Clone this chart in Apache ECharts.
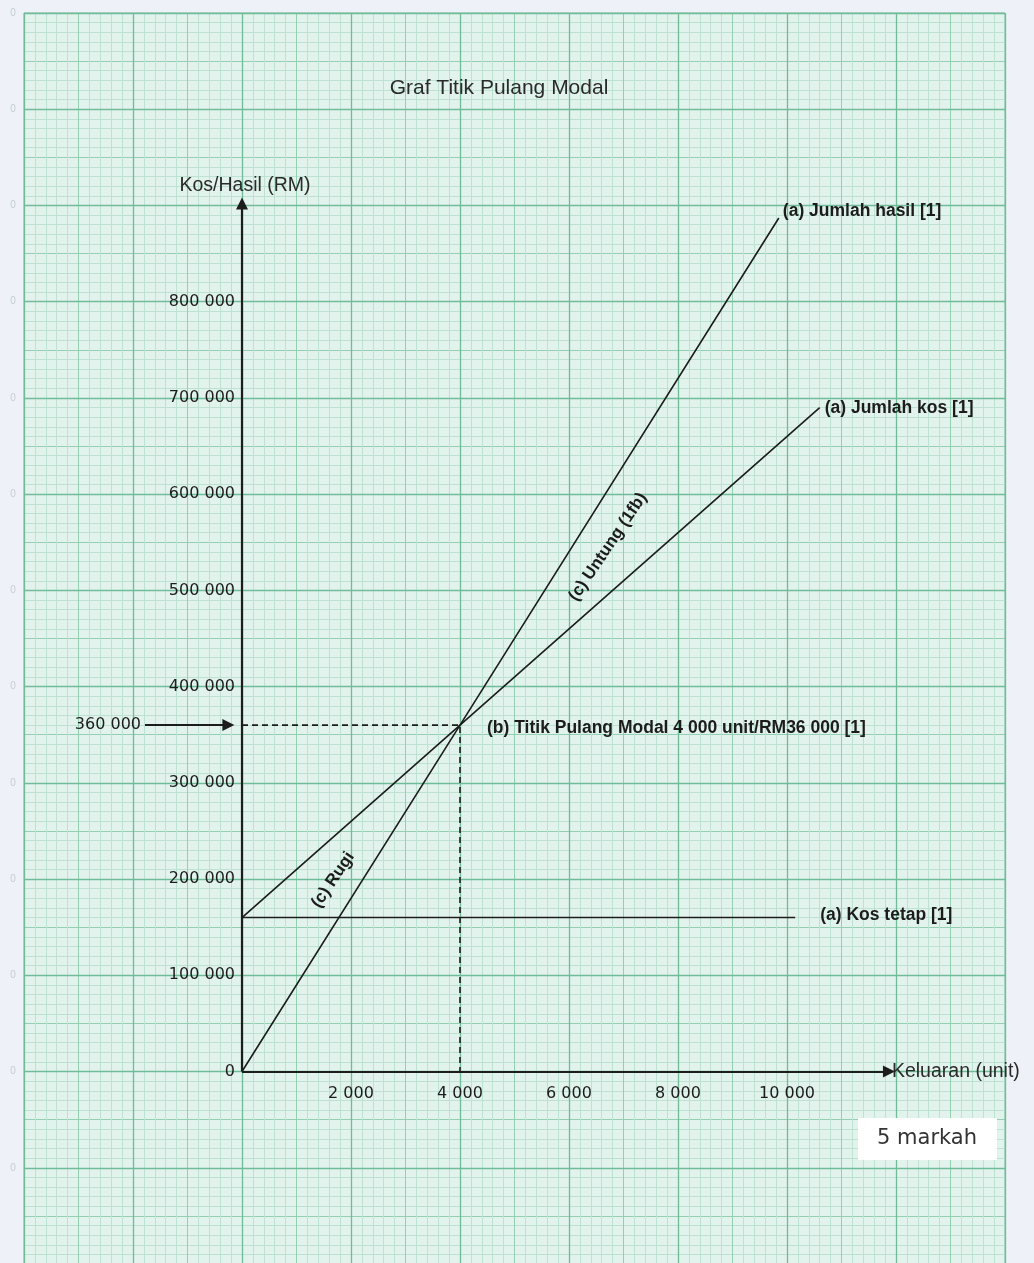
<!DOCTYPE html>
<html><head><meta charset="utf-8">
<script src="https://cdn.jsdelivr.net/npm/echarts@6/dist/echarts.min.js"></script>
<style>html,body{margin:0;padding:0;background:#eff1f8;} #c{width:1034px;height:1263px;}</style>
</head><body><div id="c"></div>
<script>
const chartTitle = 'Graf Titik Pulang Modal';
const yAxisName = 'Kos/Hasil (RM)';
const xAxisName = 'Keluaran (unit)';
const yTickValues = [0, 100000, 200000, 300000, 400000, 500000, 600000, 700000, 800000];
const xTickValues = [2000, 4000, 6000, 8000, 10000];
const totalRevenue = [[0, 0], [4000, 360000], [9850, 887000]];
const totalCost = [[0, 160000], [4000, 360000], [10600, 690000]];
const fixedCost = [[0, 160000], [10150, 160000]];
const breakEven = [4000, 360000];
const axisEnds = { x: 11870, y: 902000 };
const marginMarks = [1100000, 1000000, 900000, 800000, 700000, 600000, 500000, 400000, 300000, 200000, 100000, 0, -100000];
const labelRevenue = '(a) Jumlah hasil [1]';
const labelCost = '(a) Jumlah kos [1]';
const labelFixed = '(a) Kos tetap [1]';
const labelBreakEven = '(b) Titik Pulang Modal 4 000 unit/RM36 000 [1]';
const labelProfit = '(c) Untung (1fb)';
const labelLoss = '(c) Rugi';
const labelMarks = '5 markah';

const fmt = v => String(v).replace(/\B(?=(\d{3})+(?!\d))/g, ' ');
const FONT = "'Liberation Sans', Arial, sans-serif";
const NUMFONT = "'DejaVu Sans', Verdana, sans-serif";
const INK = '#1c1c1c';
const MINOR = '#bde2d2', MID = '#94cfb3', MAJOR = '#70bc98';

const chart = echarts.init(document.getElementById('c'), null, { renderer: 'canvas' });

const noLine = { axisLine: { show: false, onZero: false }, axisTick: { show: false } };

const option = {
  animation: false,
  backgroundColor: '#eff1f8',
  grid: { left: 24, top: 13, width: 981, height: 1251, containLabel: false, outerBoundsMode: 'none',
          show: true, backgroundColor: '#e2f3ee', borderColor: MAJOR, borderWidth: 1 },
  xAxis: [
    { type: 'value', min: -4000, max: 14000, interval: 1000, z: 0, position: 'bottom', ...noLine,
      axisLabel: { show: false },
      splitLine: { show: true, lineStyle: { color: MID, width: 1 } },
      minorTick: { show: false, splitNumber: 5 },
      minorSplitLine: { show: true, lineStyle: { color: MINOR, width: 1 } } },
    { type: 'value', min: -4000, max: 14000, interval: 2000, z: 1, position: 'bottom', ...noLine,
      axisLabel: { margin: -178, color: INK, fontSize: 16, fontFamily: NUMFONT, hideOverlap: false,
        formatter: v => xTickValues.includes(v) ? fmt(v) : '' },
      splitLine: { show: true, lineStyle: { color: MAJOR, width: 1.3 } } }
  ],
  yAxis: [
    { type: 'value', min: -200000, max: 1100000, interval: 50000, z: 0, position: 'left', ...noLine,
      axisLabel: { show: false },
      splitLine: { show: true, lineStyle: { color: MID, width: 1 } },
      minorTick: { show: false, splitNumber: 5 },
      minorSplitLine: { show: true, lineStyle: { color: MINOR, width: 1 } } },
    { type: 'value', min: -200000, max: 1100000, interval: 100000, z: 1, position: 'left', ...noLine,
      axisLabel: { margin: -211, color: INK, fontSize: 16, fontFamily: NUMFONT, hideOverlap: false,
        formatter: v => yTickValues.includes(v) ? fmt(v) : '' },
      splitLine: { show: true, lineStyle: { color: MAJOR, width: 1.3 } } }
  ],
  series: [
    { type: 'line', data: totalRevenue, symbol: 'none', z: 5, lineStyle: { color: INK, width: 1.6 } },
    { type: 'line', data: totalCost, symbol: 'none', z: 5, lineStyle: { color: INK, width: 1.6 } },
    { type: 'line', data: fixedCost, symbol: 'none', z: 5, lineStyle: { color: INK, width: 1.6 } },
    { type: 'line', data: [[0, breakEven[1]], breakEven, [breakEven[0], 0]], symbol: 'none', z: 4,
      lineStyle: { color: INK, width: 1.6, type: [6, 4] } },
    { type: 'lines', coordinateSystem: 'cartesian2d', z: 6, symbol: ['none', 'triangle'], symbolSize: [0, 12],
      lineStyle: { color: INK, width: 2.2, opacity: 1, curveness: 0 },
      data: [ { coords: [[0, 0], [axisEnds.x, 0]] }, { coords: [[0, 0], [0, axisEnds.y]] },
              { coords: [[-1780, breakEven[1]], [-250, breakEven[1]]], lineStyle: { width: 1.8 } } ] }
  ],
  graphic: []
};
chart.setOption(option);

const px = (x, y) => chart.convertToPixel({ xAxisIndex: 0, yAxisIndex: 0 }, [x, y]);
const txt = (text, x, y, o = {}) => ({
  type: 'text', x, y, rotation: o.rot || 0, z: 20,
  style: { text, fill: o.fill || INK, font: `${o.weight || 'normal'} ${o.size || 15}px ${o.family || FONT}`,
           textAlign: o.align || 'left', textVerticalAlign: 'middle' }
});
const g = [];
marginMarks.forEach(v => { const p = px(0, v); g.push(txt('0', 13, p[1], { size: 10, align: 'center', fill: '#c3ccd4' })); });
g.push(txt(chartTitle, 499, 88, { size: 21, align: 'center', fill: '#2a2a2a' }));
g.push(txt(yAxisName, 245, 186, { size: 19.5, align: 'center', fill: '#2a2a2a' }));
const xe = px(axisEnds.x, 0);
g.push(txt(xAxisName, xe[0] + 3, xe[1], { size: 19.5, fill: '#2a2a2a' }));
const r = px(...totalRevenue[totalRevenue.length - 1]);
g.push(txt(labelRevenue, r[0] + 4, r[1] - 7, { size: 17.5, weight: 'bold' }));
const c = px(...totalCost[totalCost.length - 1]);
g.push(txt(labelCost, c[0] + 5, c[1] + 1, { size: 17.5, weight: 'bold' }));
const f = px(...fixedCost[fixedCost.length - 1]);
g.push(txt(labelFixed, f[0] + 25, f[1] - 2, { size: 17.5, weight: 'bold' }));
const b = px(...breakEven);
g.push(txt(labelBreakEven, b[0] + 27, b[1] + 3, { size: 17.5, weight: 'bold' }));
const ang = 56 * Math.PI / 180;
g.push(txt(labelProfit, 608, 547, { size: 17, weight: 'bold', align: 'center', rot: ang }));
g.push(txt(labelLoss, 333, 880, { size: 17, weight: 'bold', align: 'center', rot: ang }));
const a = px(-1780, breakEven[1]);
g.push(txt(fmt(breakEven[1]), a[0] - 4, a[1], { size: 16, align: 'right', family: NUMFONT }));
g.push({ type: 'rect', z: 19, shape: { x: 858, y: 1118, width: 139, height: 42 }, style: { fill: '#ffffff' } });
g.push(txt(labelMarks, 927, 1139, { size: 21, align: 'center', fill: '#333', family: "'DejaVu Sans', sans-serif" }));
chart.setOption({ graphic: g });
</script></body></html>
